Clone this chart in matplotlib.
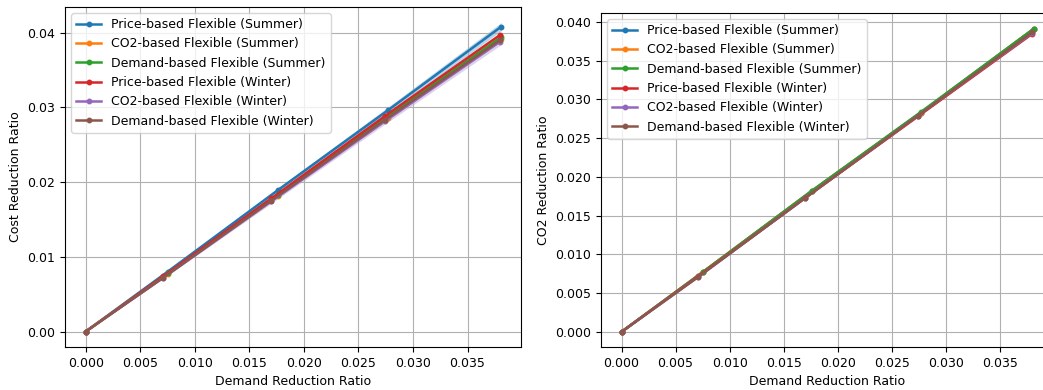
#!/usr/bin/env python3
"""Cost / CO2 reduction ratio against demand reduction ratio, summer vs winter."""

import numpy as np
import matplotlib
matplotlib.use("Agg")
import matplotlib.pyplot as plt

# --- data ---
labels = [
    "Price-based Flexible (Summer)",
    "CO2-based Flexible (Summer)",
    "Demand-based Flexible (Summer)",
    "Price-based Flexible (Winter)",
    "CO2-based Flexible (Winter)",
    "Demand-based Flexible (Winter)",
]

x_summer = [0.0, 0.0075, 0.0176, 0.0277, 0.0381]
x_winter = [0.0, 0.0071, 0.0170, 0.0274, 0.0380]

cost_price_summer = [0.0, 0.0080, 0.0189, 0.0296, 0.0408]
cost_co2_summer = [0.0, 0.0077, 0.0182, 0.0286, 0.0392]
cost_demand_summer = [0.0, 0.0078, 0.0183, 0.0288, 0.0394]
cost_price_winter = [0.0, 0.0074, 0.0178, 0.0288, 0.0397]
cost_co2_winter = [0.0, 0.0072, 0.0174, 0.0281, 0.0388]
cost_demand_winter = [0.0, 0.0072, 0.0175, 0.0283, 0.0390]

cost_std_price_summer = [0.0, 0.00015, 0.0003, 0.00042, 0.00055]
cost_std_co2_summer = [0.0, 0.00005, 0.0001, 0.00015, 0.0002]
cost_std_demand_summer = [0.0, 0.00004, 0.00008, 0.00012, 0.00016]
cost_std_price_winter = [0.0, 0.00005, 0.0001, 0.00015, 0.0002]
cost_std_co2_winter = [0.0, 0.00013, 0.00026, 0.00038, 0.0005]
cost_std_demand_winter = [0.0, 0.00006, 0.00012, 0.00018, 0.00024]

co2_price_summer = [0.0, 0.0077, 0.0182, 0.0283, 0.0391]
co2_co2_summer = [0.0, 0.0077, 0.0182, 0.0283, 0.0391]
co2_demand_summer = [0.0, 0.0077, 0.0182, 0.0284, 0.0391]
co2_price_winter = [0.0, 0.0072, 0.0173, 0.0278, 0.0385]
co2_co2_winter = [0.0, 0.0071, 0.0173, 0.0279, 0.0386]
co2_demand_winter = [0.0, 0.0071, 0.0173, 0.0279, 0.0387]

co2_std = [0.0, 0.00003, 0.00005, 0.00007, 0.0001]

colors = ["tab:blue", "tab:orange", "tab:green", "tab:red", "tab:purple", "tab:brown"]

plt.rcParams["font.size"] = 9


def draw(ax, xs, ys, stds, ylabel):
    for x, y, s, c, lab in zip(xs, ys, stds, colors, labels):
        x = np.asarray(x)
        y = np.asarray(y)
        s = np.asarray(s)
        ax.plot(x, y, marker="o", markersize=3.2, linewidth=1.8, color=c, label=lab)
        ax.fill_between(x, y - s, y + s, color=c, alpha=0.3, linewidth=0)
    ax.set_xlabel("Demand Reduction Ratio")
    ax.set_ylabel(ylabel)
    ax.set_xlim(-0.0019, 0.0399)
    ax.grid(True)
    ax.legend(loc="upper left")


def main():
    fig = plt.figure(figsize=(10.43, 3.9), dpi=100)
    ax1 = fig.add_axes([65 / 1043, 1 - 347 / 390, 456 / 1043, 340 / 390])
    ax2 = fig.add_axes([601 / 1043, 1 - 347 / 390, 452 / 1043, 334 / 390])

    xs = [x_summer] * 3 + [x_winter] * 3

    draw(
        ax1, xs,
        [cost_price_summer, cost_co2_summer, cost_demand_summer,
         cost_price_winter, cost_co2_winter, cost_demand_winter],
        [cost_std_price_summer, cost_std_co2_summer, cost_std_demand_summer,
         cost_std_price_winter, cost_std_co2_winter, cost_std_demand_winter],
        "Cost Reduction Ratio",
    )
    draw(
        ax2, xs,
        [co2_price_summer, co2_co2_summer, co2_demand_summer,
         co2_price_winter, co2_co2_winter, co2_demand_winter],
        [co2_std] * 6,
        "CO2 Reduction Ratio",
    )
    ax1.set_yticks([0.0, 0.01, 0.02, 0.03, 0.04])

    fig.savefig("out.png", dpi=100)
    plt.close(fig)


if __name__ == "__main__":
    main()
